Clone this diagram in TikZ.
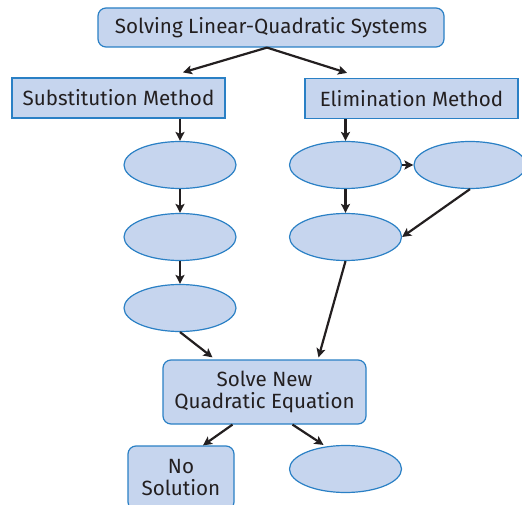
\documentclass[tikz,border=0pt]{standalone}
\usepackage{fontspec}
\setmainfont{Fira Sans}[Scale=1.0]
\usepackage{xcolor}
\usetikzlibrary{shapes.geometric, arrows.meta, positioning, calc}
\definecolor{ink}{HTML}{231F20}
\definecolor{edge}{HTML}{2A80C5}
\definecolor{paleblue}{HTML}{C6D5EE}
\tikzset{
  box/.style      = {draw=edge, fill=paleblue, line width=1.2pt, rectangle, align=center,
                     inner sep=0pt, text=ink, font=\fontsize{20.6}{22}\selectfont},
  boxround/.style = {box, rounded corners=8pt},
  blank/.style    = {draw=edge, fill=paleblue, line width=1.2pt, ellipse, inner sep=0pt,
                     minimum width=112pt, minimum height=47pt},
  flow/.style     = {-{Stealth[length=9pt, width=9pt, inset=2pt]}, draw=ink, line width=2.2pt},
}

\begin{document}
\begin{tikzpicture}[x=1pt, y=-1pt]
  \clip (0,0) rectangle (522,505);

  \node[boxround, minimum width=346pt, minimum height=39pt] (top) at (271,27.5) {Solving Linear-Quadratic Systems};
  \node[box, minimum width=213pt, minimum height=40pt] (subst) at (118.5,98) {Substitution Method};
  \node[box, minimum width=213pt, minimum height=40pt] (elim) at (411.5,98.5) {Elimination Method};

  % substitution column
  \node[blank] (s1) at (180,165) {};
  \node[blank] (s2) at (180,237) {};
  \node[blank] (s3) at (180,308) {};

  % elimination column
  \node[blank] (e1) at (345.5,165) {};
  \node[blank] (e1b) at (470,165) {};
  \node[blank] (e2) at (345.5,237) {};

  \node[boxround, minimum width=203pt, minimum height=64pt] (solve) at (264.5,392) {Solve New\\Quadratic Equation};
  \node[boxround, minimum width=106pt, minimum height=64pt] (nosol) at (181,478) {No\\Solution};
  \node[blank] (root) at (345.5,469) {};

  \draw[flow] ([xshift=-4pt]top.south) -- ([xshift=64.5pt,yshift=5pt]subst.north);
  \draw[flow] ([xshift=-4pt]top.south) -- ([xshift=-64.5pt,yshift=5pt]elim.north);

  \draw[flow] (s1 |- subst.south) -- (s1.north);
  \draw[flow] (e1 |- elim.south) -- (e1.north);
  \draw[flow] (s1) -- (s2);
  \draw[flow] (s2) -- (s3);
  \draw[flow] (e1) -- (e2);
  \draw[flow] (e1) -- (e1b);
  \draw[flow] (e1b.south) -- (e2.east);

  \draw[flow] (s3.south) -- ([xshift=-52pt,yshift=2pt]solve.north);
  \draw[flow] (e2.south) -- ([xshift=54pt,yshift=2pt]solve.north);

  \draw[flow] ([xshift=-32pt]solve.south) -- ([xshift=22pt]nosol.north);
  \draw[flow] ([xshift=28pt]solve.south) -- ([xshift=-22pt]root.north);
\end{tikzpicture}
\end{document}
